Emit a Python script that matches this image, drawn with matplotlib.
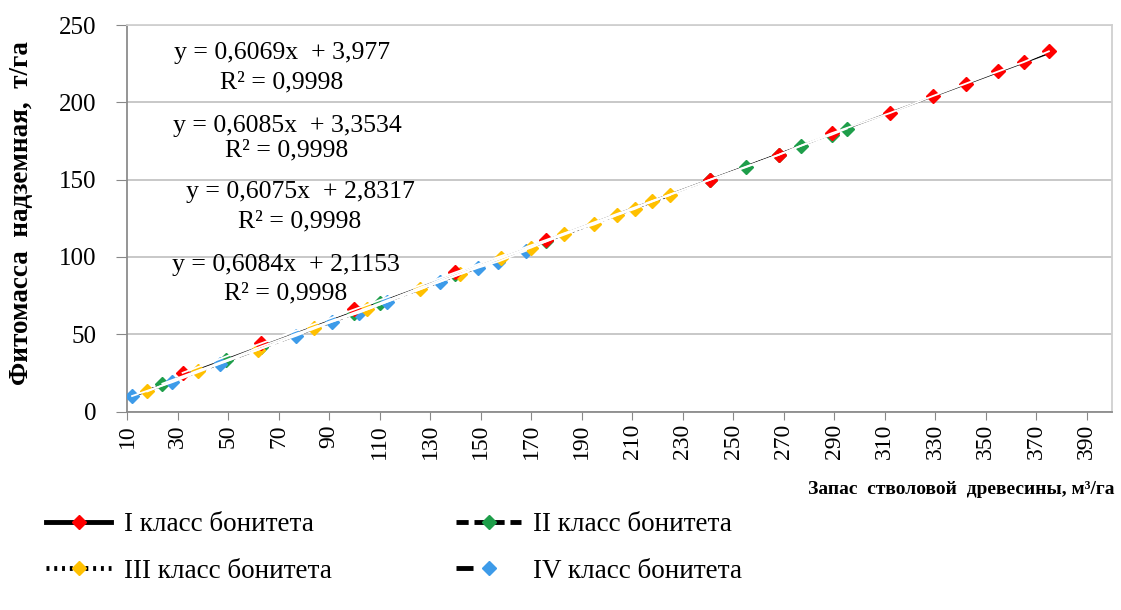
import matplotlib
matplotlib.use("Agg")
import matplotlib.pyplot as plt
from matplotlib.lines import Line2D
from matplotlib.font_manager import FontProperties
import numpy as np

plt.rcParams['font.family'] = ['Liberation Serif', 'DejaVu Serif']

# Growing stock (m3/ha) and above-ground phytomass (t/ha) by site class
x_I = [32, 63, 100, 140, 176, 241, 268, 289, 312, 329, 342, 355, 365, 375]
y_I = [25, 44, 66, 90, 111, 150, 166, 180, 193, 204, 212, 220, 226, 233]

x_II = [24, 49, 63, 100, 110, 140, 176, 241, 255, 268, 277, 289, 295]
y_II = [18, 33, 42, 64, 70, 89, 110, 150, 158, 166, 172, 179, 183]

x_III = [18, 38, 62, 84, 105, 126, 142, 158, 170, 183, 195, 204, 211, 218, 225]
y_III = [13, 26, 40, 54, 66, 79, 89, 99, 106, 115, 121, 127, 131, 136, 140]

x_IV = [12, 28, 47, 77, 91, 102, 113, 134, 149, 157, 168]
y_IV = [10, 19, 31, 49, 58, 64, 71, 84, 93, 97, 104]

# Linear trend coefficients (slope, intercept) and R^2
slopes = [0.6069, 0.6085, 0.6075, 0.6084]
intercepts = [3.977, 3.3534, 2.8317, 2.1153]
r2 = [0.9998, 0.9998, 0.9998, 0.9998]

labels = ["I класс бонитета", "II класс бонитета",
          "III класс бонитета", "IV класс бонитета"]
colors = ["#ff0000", "#1e9e4a", "#ffc000", "#3d9be9"]
trend_styles = ["-", (0, (6, 3)), (0, (1.5, 1.5)), (0, (7, 3, 2, 3))]
legend_dashes = ["-", (0, (2.5, 1.2)), (0, (0.6, 1.0)), (0, (3.5, 40))]

xs = [x_I, x_II, x_III, x_IV]
ys = [y_I, y_II, y_III, y_IV]

fig = plt.figure(figsize=(11.21, 6.10), dpi=100)
ax = fig.add_axes([127 / 1121, 1 - 411.5 / 610, (1112 - 127) / 1121, (411.5 - 25) / 610])

# trend lines
for i in range(4):
    xx = np.array([min(xs[i]), max(xs[i])])
    ax.plot(xx, slopes[i] * xx + intercepts[i], color="black", lw=1.1,
            linestyle=trend_styles[i], zorder=3)

# markers, lower series first
for k, i in enumerate([1, 3, 2, 0]):
    ax.plot(xs[i], ys[i], linestyle="none", marker="D", markersize=7,
            markerfacecolor=colors[i], markeredgecolor=colors[i], zorder=4 + k * 0.1)
    ax.plot(xs[i], ys[i], color="white", lw=1.3, zorder=5)

ax.set_xlim(10, 400)
ax.set_ylim(0, 250)
ax.set_xticks(np.arange(10, 391, 20))
ax.set_yticks(np.arange(0, 251, 50))
ax.tick_params(axis="x", labelrotation=90, labelsize=17, length=6, color="#888888", pad=3)
ax.tick_params(axis="y", labelsize=18, length=8, color="#888888", pad=14)
ax.grid(axis="y", color="#c4c4c4", lw=1.3)
ax.set_axisbelow(True)
for side in ["left", "bottom"]:
    ax.spines[side].set_color("#8c8c8c")
    ax.spines[side].set_linewidth(1.3)
for side in ["top", "right"]:
    ax.spines[side].set_color("#d0d0d0")
    ax.spines[side].set_linewidth(1.3)

# regression equations
eq_pos = [(282, 53, 82), (287, 126, 150), (300, 192, 221), (286, 265, 293)]
for i, (cx, ye, yr) in enumerate(eq_pos):
    fig.text(cx / 1121, 1 - ye / 610,
             "y = {}x  + {}".format(str(slopes[i]).replace(".", ","),
                                     str(intercepts[i]).replace(".", ",")),
             ha="center", va="center", fontsize=18.5)
    fig.text(cx / 1121, 1 - yr / 610,
             "R² = {}".format(str(r2[i]).replace(".", ",")),
             ha="center", va="center", fontsize=18.5)

fig.text(22 / 1121, 1 - 213 / 610, "Фитомасса  надземная,  т/га", rotation=90,
         ha="center", va="center", fontsize=19.5, fontweight="bold")
fig.text(1115 / 1121, 1 - 490 / 610, "Запас  стволовой  древесины, м³/га",
         ha="right", va="center", fontsize=14, fontweight="bold")

handles = []
for i in [0, 2, 1, 3]:
    handles.append(Line2D([0], [0], color="black", lw=3.5, linestyle=legend_dashes[i],
                          marker="D", markersize=7, markerfacecolor=colors[i],
                          markeredgecolor=colors[i]))
leg_labels = [labels[i] for i in [0, 2, 1, 3]]
fig.legend(handles, leg_labels, ncol=2, loc="center left",
           bbox_to_anchor=(22 / 1121, 1 - 548 / 610), frameon=False,
           prop=FontProperties(family="Liberation Serif", size=19.5),
           handlelength=2.4, handletextpad=0.45,
           columnspacing=4.6, labelspacing=0.8)

fig.savefig("out.png", dpi=100)
